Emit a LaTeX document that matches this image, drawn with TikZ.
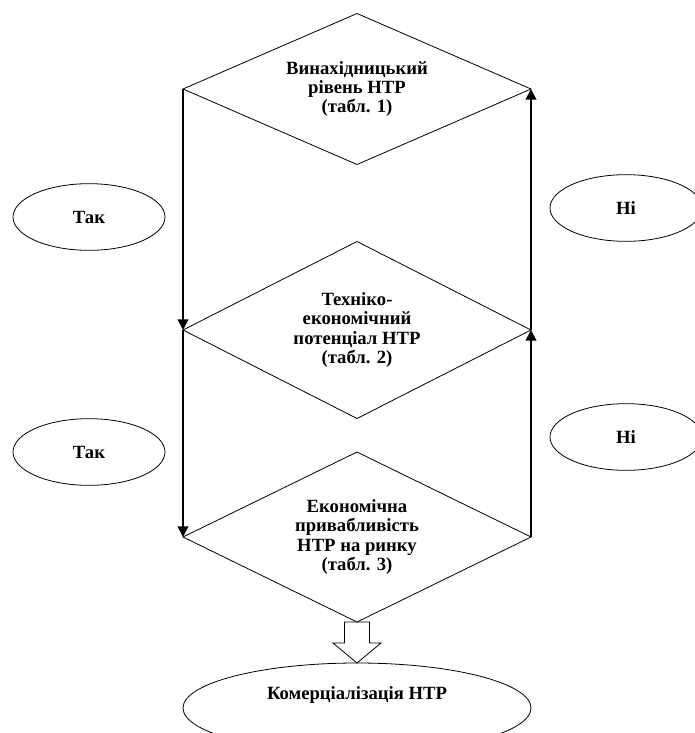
\documentclass[tikz,border=0pt]{standalone}
\usepackage{fontspec}
\setmainfont{Liberation Serif}
\usetikzlibrary{arrows.meta,shapes.geometric,calc}
\tikzset{every node/.append style={font=\bfseries\fontsize{14}{14.6}\selectfont}}
\tikzset{
  decision/.style={diamond,draw,aspect=2.4,line width=0.6pt,inner sep=0pt,outer sep=0pt,
    align=center,minimum width=261pt},
  answer/.style={ellipse,draw,line width=0.6pt,inner sep=0pt,outer sep=0pt,
    minimum width=114pt,minimum height=50pt},
  flow/.style={-{Triangle[length=8pt,width=8pt]},line width=1.4pt},
  hollow/.style={draw,line width=0.6pt,line join=miter}
}
\begin{document}
\begin{tikzpicture}[x=0.75pt,y=-0.75pt]
  \useasboundingbox (0,0) rectangle (694,733);
  % three decisions
  \node[decision,minimum height=113.25pt] (vynakh) at (357,89)
    {Винахідницький\\рівень НТР\\(табл. 1)};
  \node[decision,minimum height=132.75pt] (tekhn) at (357,330)
    {Техніко-\\економічний\\потенціал НТР\\(табл. 2)};
  \node[decision,minimum height=127.5pt] (ekon) at (357,537)
    {Економічна\\привабливість\\НТР на ринку\\(табл. 3)};
  % answers
  \node[answer] (tak1) at (89,217) {Так};
  \node[answer] (tak2) at (89,452) {Так};
  \node[answer] (ni1) at (626,208) {Ні};
  \node[answer] (ni2) at (626,437) {Ні};
  \node[answer,minimum width=261pt,minimum height=67.5pt] (kom) at (357,708) {};
  \node at ($(kom.center)+(0,-13)$) {Комерціалізація НТР};
  % connectors
  \draw[flow] (vynakh.west) -- (tekhn.west);
  \draw[flow] (tekhn.west) -- (ekon.west);
  \draw[flow] (ekon.east) -- (tekhn.east);
  \draw[flow] (tekhn.east) -- (vynakh.east);
  \draw[hollow] ($(ekon.south)+(-12.5,0)$) -- ++(0,21) -- ++(-11.5,0)
    -- (kom.north) -- ++(24,-20) -- ++(-11.5,0) -- ++(0,-21) -- cycle;
\end{tikzpicture}
\end{document}
